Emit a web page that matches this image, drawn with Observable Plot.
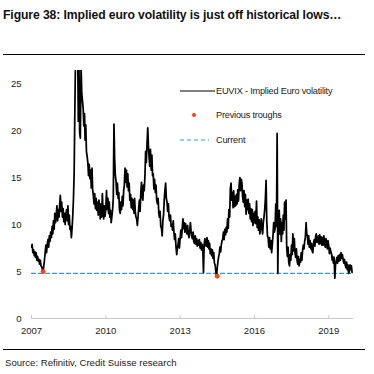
<!DOCTYPE html>
<html>
<head>
<meta charset="utf-8">
<script src="https://cdn.jsdelivr.net/npm/d3@7"></script>
<script src="https://cdn.jsdelivr.net/npm/@observablehq/plot@0.6"></script>
<style>
  html, body { margin: 0; padding: 0; background: #fff; }
  body { width: 374px; height: 374px; position: relative; overflow: hidden; font-family: "Liberation Sans", Arial, sans-serif; color: #111; }
  #title { position: absolute; left: 3px; top: 8px; font-weight: bold; font-size: 12.2px; line-height: 14px; white-space: nowrap; letter-spacing: -0.1px; }
  .rule { position: absolute; left: 3px; width: 362px; border-top: 1.5px solid #000; }
  #chart { position: absolute; left: 0; top: 56px; }
  #source { position: absolute; left: 5px; top: 357px; font-size: 9.6px; line-height: 12px; color: #222; white-space: nowrap; }
  .leg { position: absolute; font-size: 9.2px; line-height: 10px; color: #222; white-space: nowrap; letter-spacing: -0.2px; }
  .sw { position: absolute; }
</style>
</head>
<body>
<div id="title">Figure 38: Implied euro volatility is just off historical lows…</div>
<div class="rule" style="top:54px"></div>
<div id="chart"></div>
<svg class="sw" style="left:178px;top:85px" width="40" height="60">
  <line x1="2" x2="37" y1="6" y2="6" stroke="#000" stroke-width="1.2"/>
  <circle cx="16" cy="30" r="2" fill="#ff4010"/>
  <line x1="2" x2="31" y1="55" y2="55" stroke="#3a96e0" stroke-width="1.1" stroke-dasharray="4,3"/>
</svg>
<div class="leg" style="left:216px;top:86px">EUVIX - Implied Euro volatility</div>
<div class="leg" style="left:216px;top:110px">Previous troughs</div>
<div class="leg" style="left:216px;top:135px">Current</div>
<div class="rule" style="top:349px"></div>
<div id="source">Source: Refinitiv, Credit Suisse research</div>
<script>
// EUVIX values, three readings per month (around the 1st, 11th and 21st)
const startYear = 2007;
const v2007 = [7.6,7.9,7.0, 7.3,6.7,7.1, 6.5,7.0,6.2, 6.6,6.1,6.3, 5.8,6.2,5.6, 5.5,5.2,5.0, 5.6,6.2,7.0, 7.8,7.0,7.9, 8.4,7.6,8.8, 8.2,9.2,8.6, 9.8,9.0,10.4, 9.5,11.2,10.2];
const v2008 = [11.0,12.0,10.4, 11.6,10.8,12.2, 13.1,11.4,12.4, 10.8,11.7,10.3, 11.2,10.0,11.0, 11.6,10.4,12.0, 10.0,11.0,9.5, 9.8,8.6,9.6, 11.0,12.8,15.5, 22.0,28.0,31.0, 27.0,29.5,21.0, 26.8,19.8,19.2];
const v2009 = [26.8,24.0,23.2, 22.4,20.5,21.8, 19.0,20.6,17.8, 17.2,16.6,15.2, 16.4,14.9,15.8, 13.9,16.0,13.7, 13.1,12.2,13.3, 11.7,12.8,11.5, 12.4,11.0,12.6, 11.8,10.6,12.2, 10.8,13.3,11.4, 10.6,12.0,10.9];
const v2010 = [11.8,13.6,11.6, 12.8,11.2,12.4, 10.8,11.5,10.2, 10.9,11.6,12.8, 20.7,17.0,15.2, 14.6,13.2,14.4, 12.8,13.4,11.6, 11.2,12.4,11.6, 13.0,12.0,13.6, 14.2,16.0,14.5, 15.8,14.0,15.4, 13.6,14.4,12.6];
const v2011 = [13.2,11.8,12.8, 11.6,12.6,11.2, 12.8,11.4,10.8, 10.6,9.9,10.8, 11.8,12.6,11.4, 13.4,14.5,13.0, 12.6,14.2,13.6, 15.2,17.8,16.6, 18.6,20.3,18.4, 17.2,16.2,18.0, 15.8,17.4,15.2, 15.4,13.8,14.8];
const v2012 = [13.4,14.2,12.6, 12.2,12.8,11.2, 10.8,11.4,9.8, 9.6,8.8,10.4, 11.0,12.6,13.6, 14.4,12.8,12.4, 11.4,12.2,10.8, 10.4,11.0,9.8, 10.0,9.4,10.4, 9.2,8.4,9.0, 7.6,6.8,7.4, 7.9,8.5,7.5];
const v2013 = [8.6,9.4,8.6, 9.6,10.6,9.6, 10.2,9.2,10.1, 9.4,9.0,9.9, 9.0,8.6,9.2, 10.2,9.3,8.7, 8.5,9.2,8.2, 8.0,8.8,7.9, 8.5,7.7,8.3, 7.8,8.4,7.5, 8.1,7.3,7.9, 7.4,4.9,7.9];
const v2014 = [8.5,7.8,7.7, 8.6,7.6,8.3, 7.4,8.0,6.9, 7.4,6.7,7.3, 6.4,7.0,5.9, 5.7,5.0,4.5, 5.3,6.0,6.5, 6.9,7.6,7.1, 7.9,8.3,8.4, 9.2,8.4,9.5, 8.9,9.7,9.2, 10.6,9.6,11.6];
const v2015 = [10.8,13.8,14.4, 12.6,13.4,11.8, 13.6,11.9,13.0, 12.0,13.2,12.2, 13.7,12.5,14.2, 15.0,13.6,14.8, 14.4,12.9,12.4, 13.6,11.9,13.2, 11.1,12.6,11.6, 12.7,11.2,12.2, 10.6,11.7,10.3, 11.6,9.9,11.2];
const v2016 = [10.2,11.4,10.1, 12.5,9.7,10.8, 9.4,10.5,9.0, 9.7,10.6,9.6, 9.0,10.2,10.8, 11.6,12.8,14.7, 10.4,8.8,8.6, 7.6,8.6,7.4, 8.3,7.0,7.9, 8.8,10.2,9.2, 9.6,12.2,9.8, 19.7,4.8,11.0];
const v2017 = [11.5,9.0,10.6, 8.2,10.2,9.0, 11.0,9.4,12.4, 10.6,12.6,7.6, 6.6,7.6,6.0, 5.6,6.8,6.2, 7.8,6.8,9.0, 7.2,8.5,7.0, 6.5,7.4,6.2, 5.8,6.6,5.6, 6.3,6.0,7.0, 6.2,7.2,7.8];
const v2018 = [7.4,8.2,8.6, 10.2,9.0,8.8, 7.9,8.8,7.6, 8.3,7.4,8.0, 7.2,7.0,8.0, 8.4,7.7,8.7, 9.0,8.1,8.2, 8.8,7.9,8.9, 8.0,8.7,7.8, 8.6,7.8,8.8, 8.0,7.6,8.5, 7.9,7.4,8.3];
const v2019 = [7.7,6.9,7.5, 7.1,6.9,6.2, 6.6,5.9,6.5, 4.3,5.7,6.1, 6.5,5.9,6.7, 6.1,6.8,6.2, 7.0,6.4,6.8, 6.3,5.9,6.3, 5.7,5.4,6.0, 5.2,5.7,4.8, 5.0,5.7,5.2, 5.6,4.9];

// previous troughs and current level
const troughDates = ["2007-06-21", "2014-07-01"];
const troughValues = [5.0, 4.5];
const currentLevel = 4.8;

const xTickYears = [2007, 2010, 2013, 2016, 2019];
const yTickValues = [0, 5, 10, 15, 20, 25];

const years = [v2007, v2008, v2009, v2010, v2011, v2012, v2013, v2014, v2015, v2016, v2017, v2018, v2019];
const series = [];
years.forEach((vals, yi) => {
  vals.forEach((v, i) => {
    const m = Math.floor(i / 3), k = i % 3;
    series.push({date: new Date(Date.UTC(startYear + yi, m, 1 + 10 * k)), value: v});
  });
});
const troughs = troughDates.map((d, i) => ({date: new Date(d + "T00:00:00Z"), value: troughValues[i]}));
const current = [
  {date: series[0].date, value: currentLevel},
  {date: series[series.length - 1].date, value: currentLevel}
];
const xTicks = xTickYears.map(y => new Date(Date.UTC(y, 0, 1)));

const chart = Plot.plot({
  width: 374,
  height: 290,
  marginLeft: 31,
  marginRight: 21,
  marginTop: 14,
  marginBottom: 28,
  style: {fontFamily: "'Liberation Sans', Arial, sans-serif", fontSize: "9px", color: "#222", background: "transparent"},
  x: {type: "utc", domain: [new Date(Date.UTC(2007, 0, 1)), new Date(Date.UTC(2020, 0, 1))], label: null},
  y: {domain: [0, 26.4], label: null},
  marks: [
    Plot.axisY({ticks: yTickValues, tickSize: 0, tickPadding: 10, label: null, fontSize: 9.5}),
    Plot.axisX({ticks: xTicks, tickSize: 0, tickPadding: 9, tickFormat: d3.utcFormat("%Y"), label: null, fontSize: 9.5}),
    Plot.ruleY([0], {stroke: "#c8c8c8", strokeWidth: 1.2}),
    Plot.ruleX(xTicks, {y1: 0, y2: 0.3, stroke: "#c8c8c8", strokeWidth: 1}),
    Plot.line(current, {x: "date", y: "value", stroke: "#3a96e0", strokeWidth: 1.1, strokeDasharray: "4,3"}),
    Plot.line(series, {x: "date", y: "value", stroke: "#000", strokeWidth: 1.75, clip: true}),
    Plot.dot(troughs, {x: "date", y: "value", r: 2.4, fill: "#ff4010", stroke: "none"})
  ]
});
document.getElementById("chart").appendChild(chart);
</script>
</body>
</html>
